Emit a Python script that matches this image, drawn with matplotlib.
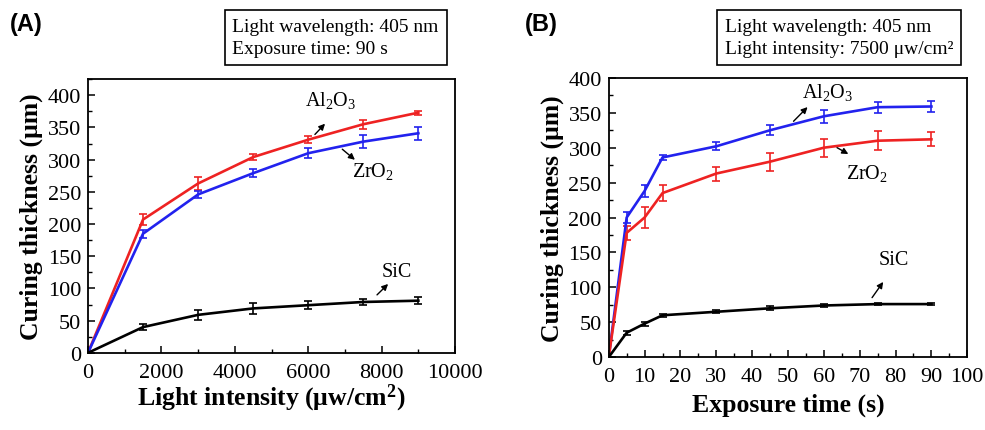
import matplotlib
matplotlib.use("Agg")
import matplotlib.pyplot as plt
from matplotlib.ticker import MultipleLocator

plt.rcParams['font.family'] = ['Liberation Serif', 'DejaVu Serif']
plt.rcParams['mathtext.fontset'] = 'custom'
plt.rcParams['mathtext.rm'] = 'Liberation Serif'
plt.rcParams['mathtext.it'] = 'Liberation Serif:italic'
plt.rcParams['mathtext.bf'] = 'Liberation Serif:bold'

RED = '#ee2222'
BLUE = '#2222ee'

# Panel A: light intensity series (exposure 90 s)
intensity = [0, 1500, 3000, 4500, 6000, 7500, 9000]
a_al2o3 = [0, 207, 263, 304, 331, 355, 373]
a_al2o3_err = [0, 8, 10, 5, 5, 7, 3]
a_zro2 = [0, 185, 246, 279, 310, 328, 341]
a_zro2_err = [0, 6, 6, 6, 8, 10, 10]
a_sic = [0, 40, 59, 69, 74, 79, 81]
a_sic_err = [0, 5, 8, 8, 6, 4, 5]

# Panel B: exposure time series (7500 uw/cm2)
time_s = [0, 5, 10, 15, 30, 45, 60, 75, 90]
b_al2o3 = [0, 200, 238, 286, 302, 325, 345, 358, 359]
b_al2o3_err = [0, 8, 8, 4, 6, 7, 9, 8, 8]
b_zro2 = [0, 178, 200, 235, 263, 280, 300, 310, 312]
b_zro2_err = [0, 10, 15, 12, 10, 13, 13, 14, 10]
b_sic = [0, 35, 48, 60, 65, 70, 74, 76, 76]
b_sic_err = [0, 3, 3, 2, 2, 3, 2, 2, 2]

fig = plt.figure(figsize=(9.85, 4.31), dpi=100)
axA = fig.add_axes([0.0893, 0.179, 0.3727, 0.635])
axB = fig.add_axes([0.618, 0.169, 0.364, 0.648])


def series(ax, x, y, err, color):
    ax.errorbar(x, y, yerr=err, color=color, lw=1.9, capsize=3,
                elinewidth=1.2, capthick=1.2)


def style(ax):
    ax.tick_params(which='both', direction='in', top=False, right=False)
    ax.tick_params(which='major', length=5, width=1.1, labelsize=16, pad=5)
    ax.tick_params(which='minor', length=3, width=1.0)
    ax.tick_params(axis='x', pad=7)
    for s in ax.spines.values():
        s.set_linewidth(1.3)
    ax.set_ylabel('Curing thickness (μm)', fontsize=18.5, fontweight='bold',
                  labelpad=3)


def note(ax, label, xy_text, tail, head):
    ax.text(*xy_text, label, fontsize=14.5, ha='center', va='center')
    ax.annotate('', xy=head, xytext=tail,
                arrowprops=dict(arrowstyle='-|>', color='black', lw=1.0,
                                mutation_scale=9))


# Panel A
series(axA, intensity, a_al2o3, a_al2o3_err, RED)
series(axA, intensity, a_zro2, a_zro2_err, BLUE)
series(axA, intensity, a_sic, a_sic_err, 'black')
axA.set_xlim(0, 10000)
axA.set_ylim(0, 425)
axA.xaxis.set_major_locator(MultipleLocator(2000))
axA.xaxis.set_minor_locator(MultipleLocator(1000))
axA.yaxis.set_major_locator(MultipleLocator(50))
axA.yaxis.set_minor_locator(MultipleLocator(25))
style(axA)
axA.set_xlabel('Light intensity (μw/cm$^\\mathbf{2}$)', fontsize=18.5,
               fontweight='bold', labelpad=0)
note(axA, 'Al$_2$O$_3$', (6600, 393), (6130, 336), (6510, 359))
note(axA, 'ZrO$_2$', (7770, 283), (6870, 319), (7330, 297))
note(axA, 'SiC', (8420, 127), (7820, 87), (8230, 110))

# Panel B
series(axB, time_s, b_al2o3, b_al2o3_err, BLUE)
series(axB, time_s, b_zro2, b_zro2_err, RED)
series(axB, time_s, b_sic, b_sic_err, 'black')
axB.set_xlim(0, 100)
axB.set_ylim(0, 400)
axB.xaxis.set_major_locator(MultipleLocator(10))
axB.xaxis.set_minor_locator(MultipleLocator(5))
axB.yaxis.set_major_locator(MultipleLocator(50))
axB.yaxis.set_minor_locator(MultipleLocator(25))
style(axB)
axB.set_xlabel('Exposure time (s)', fontsize=18.5, fontweight='bold', labelpad=5)
note(axB, 'Al$_2$O$_3$', (61, 381), (51, 335), (56, 361))
note(axB, 'ZrO$_2$', (72, 264), (63, 302), (67.5, 289))
note(axB, 'SiC', (79.5, 140), (73, 82), (77, 111))

# condition boxes
box = dict(boxstyle='square,pad=0.4', fc='white', ec='black', lw=1.2)
fig.text(0.236, 0.910, 'Light wavelength: 405 nm\nExposure time: 90 s',
         fontsize=14, va='center', ha='left', linespacing=1.4, bbox=box)
fig.text(0.736, 0.910, 'Light wavelength: 405 nm\nLight intensity: 7500 μw/cm²',
         fontsize=14, va='center', ha='left', linespacing=1.4, bbox=box)

# panel letters
fig.text(0.010, 0.942, '(A)', fontsize=17, fontweight='bold',
         family=['Liberation Sans', 'DejaVu Sans'], va='center')
fig.text(0.533, 0.942, '(B)', fontsize=17, fontweight='bold',
         family=['Liberation Sans', 'DejaVu Sans'], va='center')

fig.savefig('out.png', dpi=100)
